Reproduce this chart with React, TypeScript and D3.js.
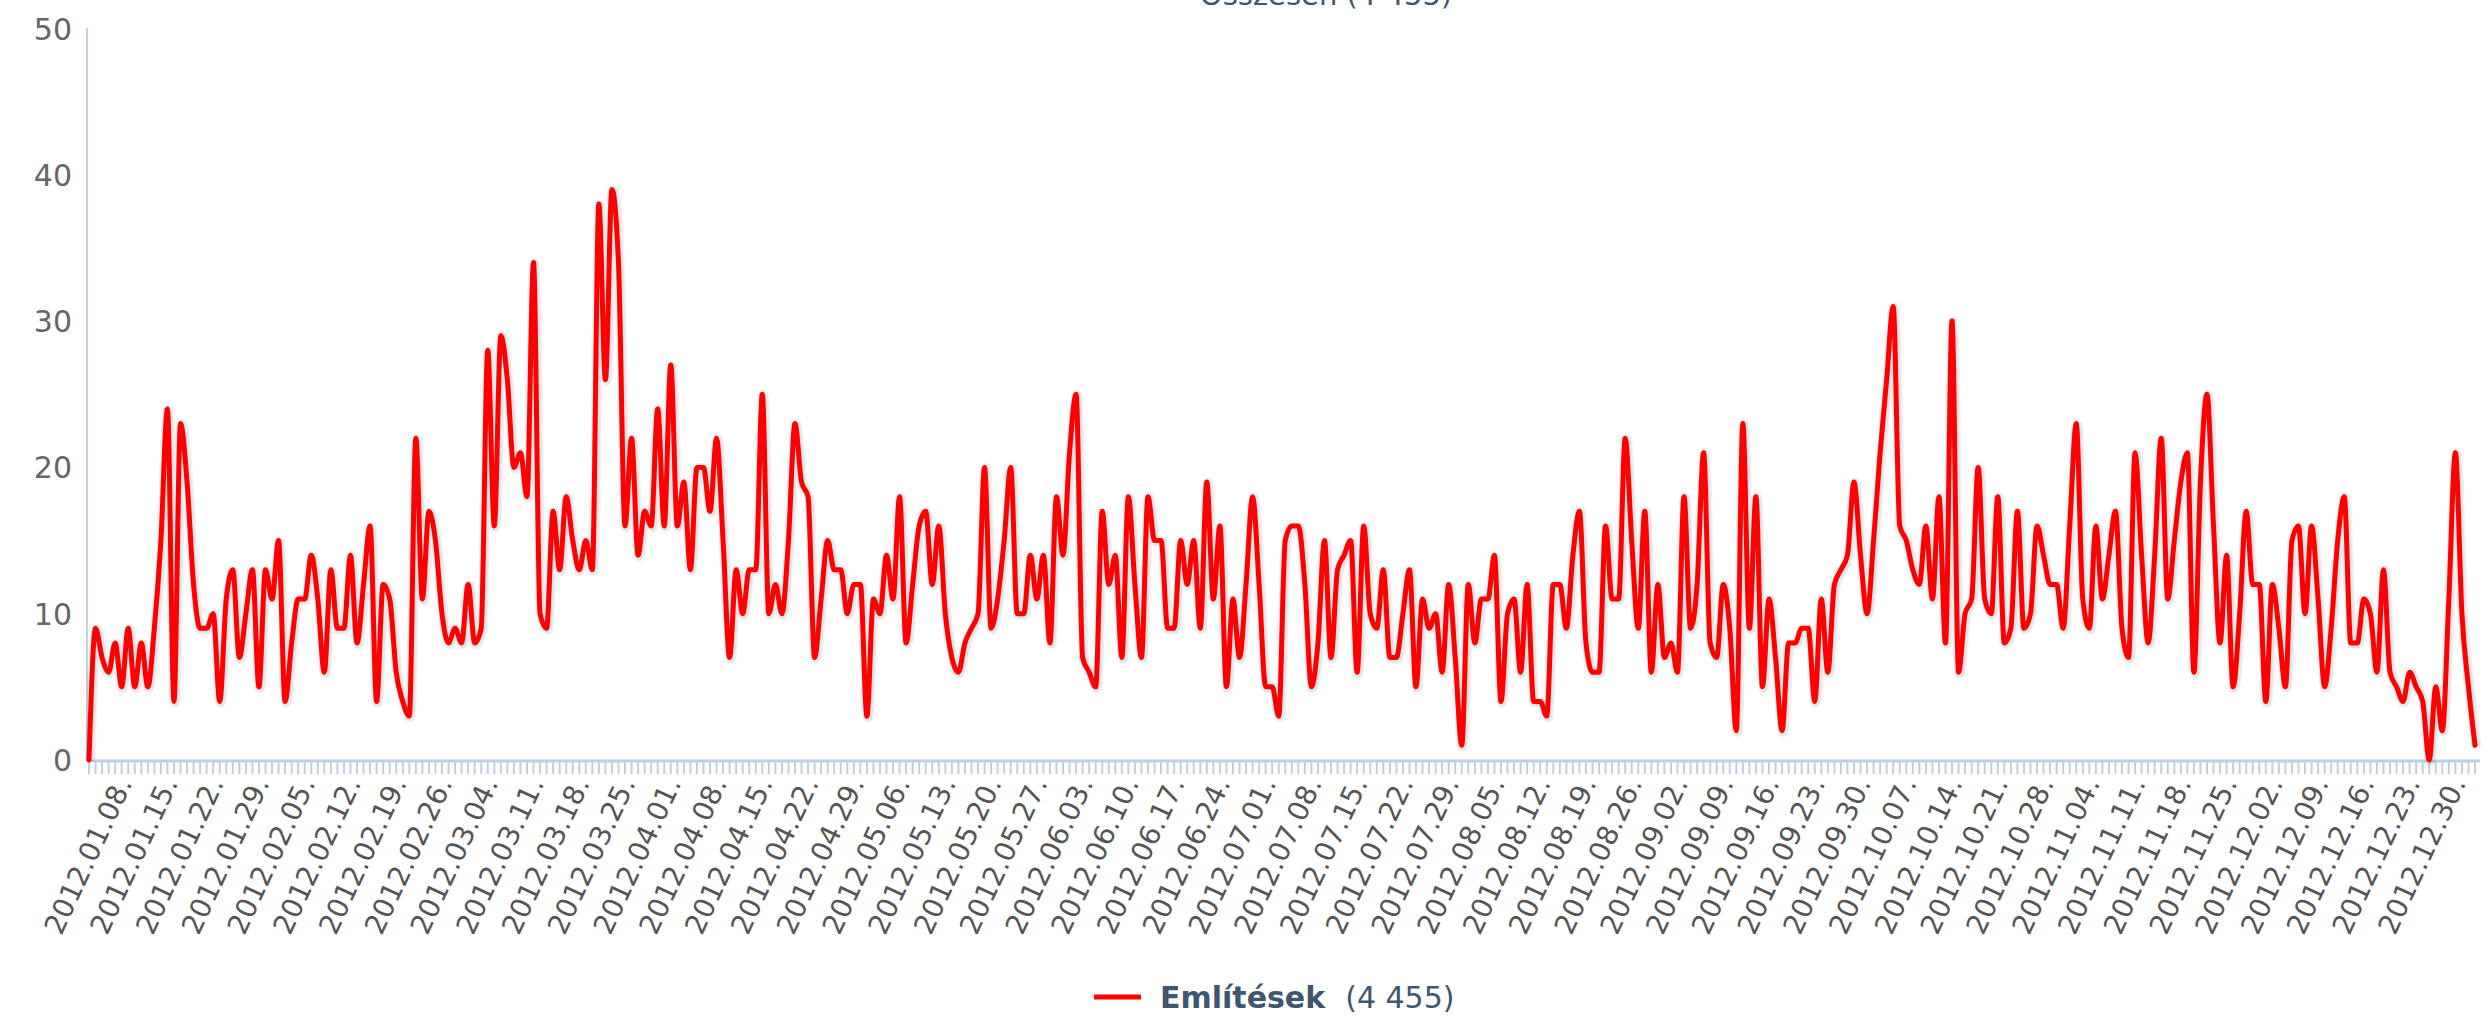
import React from 'react';
import * as d3 from 'd3';

// daily mentions, 2012.01.01. - 2012.12.31.
const values: number[] = [
  0, 9, 7, 6, 8, 5, 9, 5, 8, 5, 9, 15, 24, 4, 23, 19, 12, 9, 9, 10,
  4, 11, 13, 7, 10, 13, 5, 13, 11, 15, 4, 8, 11, 11, 14, 11, 6, 13, 9, 9,
  14, 8, 12, 16, 4, 12, 11, 6, 4, 3, 22, 11, 17, 15, 10, 8, 9, 8, 12, 8,
  9, 28, 16, 29, 26, 20, 21, 18, 34, 10, 9, 17, 13, 18, 15, 13, 15, 13, 38, 26,
  39, 34, 16, 22, 14, 17, 16, 24, 16, 27, 16, 19, 13, 20, 20, 17, 22, 15, 7, 13,
  10, 13, 13, 25, 10, 12, 10, 15, 23, 19, 18, 7, 11, 15, 13, 13, 10, 12, 12, 3,
  11, 10, 14, 11, 18, 8, 12, 16, 17, 12, 16, 10, 7, 6, 8, 9, 10, 20, 9, 11,
  15, 20, 10, 10, 14, 11, 14, 8, 18, 14, 21, 25, 7, 6, 5, 17, 12, 14, 7, 18,
  12, 7, 18, 15, 15, 9, 9, 15, 12, 15, 9, 19, 11, 16, 5, 11, 7, 12, 18, 12,
  5, 5, 3, 15, 16, 16, 12, 5, 8, 15, 7, 13, 14, 15, 6, 16, 10, 9, 13, 7,
  7, 10, 13, 5, 11, 9, 10, 6, 12, 7, 1, 12, 8, 11, 11, 14, 4, 10, 11, 6,
  12, 4, 4, 3, 12, 12, 9, 14, 17, 8, 6, 6, 16, 11, 11, 22, 15, 9, 17, 6,
  12, 7, 8, 6, 18, 9, 12, 21, 8, 7, 12, 9, 2, 23, 9, 18, 5, 11, 7, 2,
  8, 8, 9, 9, 4, 11, 6, 12, 13, 14, 19, 14, 10, 15, 21, 26, 31, 16, 15, 13,
  12, 16, 11, 18, 8, 30, 6, 10, 11, 20, 11, 10, 18, 8, 9, 17, 9, 10, 16, 14,
  12, 12, 9, 16, 23, 11, 9, 16, 11, 14, 17, 9, 7, 21, 14, 8, 14, 22, 11, 15,
  19, 21, 6, 19, 25, 16, 8, 14, 5, 10, 17, 12, 12, 4, 12, 9, 5, 15, 16, 10,
  16, 11, 5, 9, 15, 18, 8, 8, 11, 10, 6, 13, 6, 5, 4, 6, 5, 4, 0, 5,
  2, 11, 21, 10, 5, 1,
];

const weekLabels: string[] = [
  '2012.01.08.', '2012.01.15.', '2012.01.22.', '2012.01.29.',
  '2012.02.05.', '2012.02.12.', '2012.02.19.', '2012.02.26.',
  '2012.03.04.', '2012.03.11.', '2012.03.18.', '2012.03.25.',
  '2012.04.01.', '2012.04.08.', '2012.04.15.', '2012.04.22.', '2012.04.29.',
  '2012.05.06.', '2012.05.13.', '2012.05.20.', '2012.05.27.',
  '2012.06.03.', '2012.06.10.', '2012.06.17.', '2012.06.24.',
  '2012.07.01.', '2012.07.08.', '2012.07.15.', '2012.07.22.', '2012.07.29.',
  '2012.08.05.', '2012.08.12.', '2012.08.19.', '2012.08.26.',
  '2012.09.02.', '2012.09.09.', '2012.09.16.', '2012.09.23.', '2012.09.30.',
  '2012.10.07.', '2012.10.14.', '2012.10.21.', '2012.10.28.',
  '2012.11.04.', '2012.11.11.', '2012.11.18.', '2012.11.25.',
  '2012.12.02.', '2012.12.09.', '2012.12.16.', '2012.12.23.', '2012.12.30.',
];

const yTicks: number[] = [0, 10, 20, 30, 40, 50];

const seriesName = 'Említések';
const seriesTotal = '(4 455)';
const chartTitle = 'Összesen (4 455)';

const W = 2486;
const H = 1025;
const FONT = '"DejaVu Sans", Verdana, Arial, sans-serif';

const App: React.FC = () => {
  const start = new Date(2012, 0, 1);
  const end = new Date(2012, 11, 31);
  const data = values.map((v, i) => ({ date: d3.timeDay.offset(start, i), value: v }));

  const x = d3.scaleTime().domain([start, end]).range([89, 2475]);
  const y = d3.scaleLinear().domain([0, 50]).range([760, 28.5]);

  const line = d3
    .line<{ date: Date; value: number }>()
    .x((d) => x(d.date))
    .y((d) => y(d.value))
    .curve(d3.curveMonotoneX);
  const path = line(data) || '';

  const parse = d3.timeParse('%Y.%m.%d.');
  const days = d3.timeDay.range(start, d3.timeDay.offset(end, 1));
  const axisY = y(0) + 1;

  return (
    <svg
      width={W}
      height={H}
      style={{ position: 'absolute', left: 0, top: 0, background: '#fff' }}
      fontFamily={FONT}
    >
      {/* title, mostly cut off at the top edge like in the source */}
      <text x={1326} y={5} textAnchor="middle" fontSize={29} fill="#3E576F">
        {chartTitle}
      </text>

      {/* y axis */}
      <line x1={87} x2={87} y1={28} y2={axisY} stroke="#C0D0E0" strokeWidth={2} />
      {yTicks.map((t) => (
        <text
          key={t}
          x={72}
          y={y(t) + 11}
          textAnchor="end"
          fontSize={30}
          fill="#666"
        >
          {t}
        </text>
      ))}

      {/* x axis */}
      <line x1={87} x2={2480} y1={axisY} y2={axisY} stroke="#C0D0E0" strokeWidth={3} />
      {days.map((d, i) => (
        <line
          key={i}
          x1={x(d)}
          x2={x(d)}
          y1={axisY}
          y2={axisY + 13}
          stroke="#C0D0E0"
          strokeWidth={2}
        />
      ))}
      {weekLabels.map((lab) => {
        const tx = x(parse(lab) as Date);
        return (
          <text
            key={lab}
            transform={`translate(${tx - 2},${axisY + 22}) rotate(-65)`}
            textAnchor="end"
            fontSize={28}
            fill="#555"
          >
            {lab}
          </text>
        );
      })}

      {/* series shadow + line */}
      <g transform="translate(1,1)">
        <path d={path} fill="none" stroke="#000" strokeOpacity={0.05} strokeWidth={11} />
        <path d={path} fill="none" stroke="#000" strokeOpacity={0.05} strokeWidth={8} />
      </g>
      <path
        d={path}
        fill="none"
        stroke="#FF0000"
        strokeWidth={5}
        strokeLinejoin="round"
        strokeLinecap="round"
      />

      {/* legend */}
      <line x1={1094} x2={1141} y1={997} y2={997} stroke="#FF0000" strokeWidth={5} />
      <text x={1160} y={1008} fontSize={30} fill="#3E576F">
        <tspan fontWeight="bold">{seriesName}</tspan>
        <tspan dx={20}>{seriesTotal}</tspan>
      </text>
    </svg>
  );
};

export default App;
